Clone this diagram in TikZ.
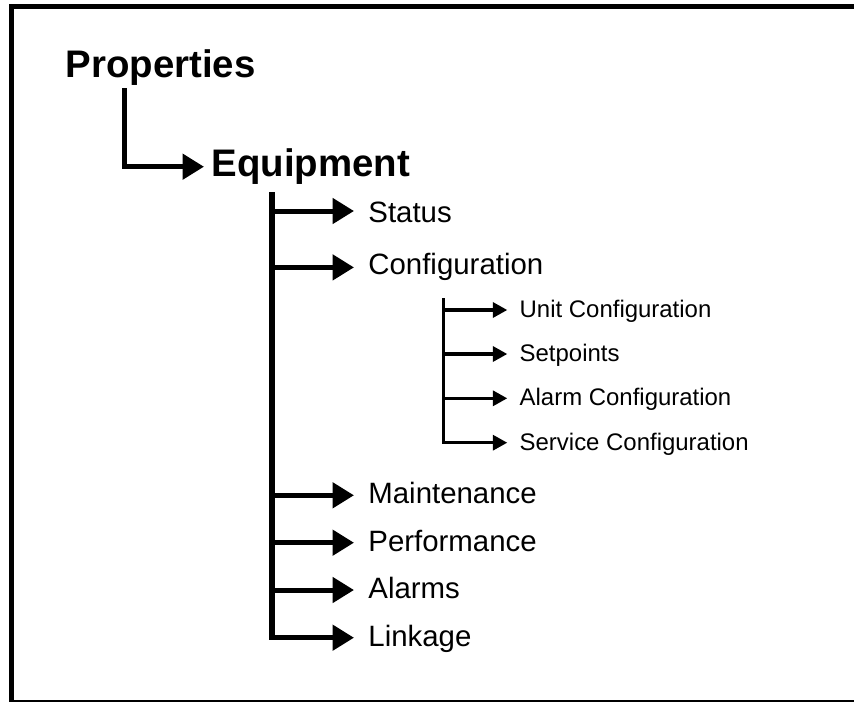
\documentclass[tikz,border=0pt]{standalone}
\usepackage{fontspec}
\setmainfont{Liberation Sans}
\usetikzlibrary{arrows.meta}
\tikzset{
  x=1pt,y=-1pt,
  headA/.style={inner sep=0pt,anchor=base west,font=\fontsize{38.4}{40}\bfseries\selectfont},
  labB/.style={inner sep=0pt,anchor=base west,font=\fontsize{29.4}{32}\selectfont},
  labC/.style={inner sep=0pt,anchor=base west,font=\fontsize{23.95}{26}\selectfont},
  frameline/.style={line width=5pt,line cap=butt,line join=miter},
  trunkA/.style={line width=5.4pt,line join=miter},
  trunkC/.style={line width=3.4pt,line join=miter},
  connA/.style={line width=5pt,-{Triangle[length=21.5pt,width=25pt]}},
  connC/.style={line width=3.4pt,-{Triangle[length=14.5pt,width=15pt]}},
}
\begin{document}
\begin{tikzpicture}
\useasboundingbox (0,0) rectangle (854,702);
\fill[white] (0,0) rectangle (854,702);
% frame (runs off the right edge)
\draw[frameline] (854,6.5) -- (11.5,6.5) -- (11.5,702);
\fill (9,699.8) rectangle (854,702);
% headings
\node[headA] (prop) at (65.5,77.3) {Properties};
\node[headA] (equip) at (211.5,176.7) {Equipment};
% Properties -> Equipment
\coordinate (pbot) at (124.5,88);
\coordinate (pcorner) at (124.5,166.7);
\draw[trunkA] (pbot) -- (pcorner) -- ++(10,0);
\draw[connA,shorten >=7.5pt] (pcorner) -- (pcorner -| equip.west);
% level 2 labels
\node[labB] (status) at (368.2,222.6) {Status};
\node[labB] (config) at (368.2,274.4) {Configuration};
\node[labB] (maint) at (368.2,503.2) {Maintenance};
\node[labB] (perf) at (368.2,551) {Performance};
\node[labB] (alarms) at (368.2,598.5) {Alarms};
\node[labB] (link) at (368.2,646.2) {Linkage};
% level 2 connectors
\coordinate (ttop) at (272,192);
\coordinate (tbot) at (272,637.7);
\coordinate (b1) at (272,211);
\coordinate (b2) at (272,267.4);
\coordinate (b3) at (272,495.3);
\coordinate (b4) at (272,542.7);
\coordinate (b5) at (272,590);
\draw[trunkA] (ttop) -- (tbot) -- ++(10,0);
\foreach \b/\n in {b1/status,b2/config,b3/maint,b4/perf,b5/alarms,tbot/link}
  \draw[connA,shorten >=14.2pt] (\b) -- (\b -| \n.west);
% level 3 labels
\node[labC] (unit) at (519.5,317.3) {Unit Configuration};
\node[labC] (setp) at (519.5,361.2) {Setpoints};
\node[labC] (alarmc) at (519.5,405.8) {Alarm Configuration};
\node[labC] (servc) at (519.5,450.6) {Service Configuration};
% level 3 connectors
\coordinate (stop) at (443.3,298);
\coordinate (sbot) at (443.3,442.7);
\coordinate (c1) at (443.3,310);
\coordinate (c2) at (443.3,354);
\coordinate (c3) at (443.3,398.3);
\draw[trunkC] (stop) -- (sbot) -- ++(8,0);
\foreach \b/\n in {c1/unit,c2/setp,c3/alarmc,sbot/servc}
  \draw[connC,shorten >=12.2pt] (\b) -- (\b -| \n.west);
\end{tikzpicture}
\end{document}
